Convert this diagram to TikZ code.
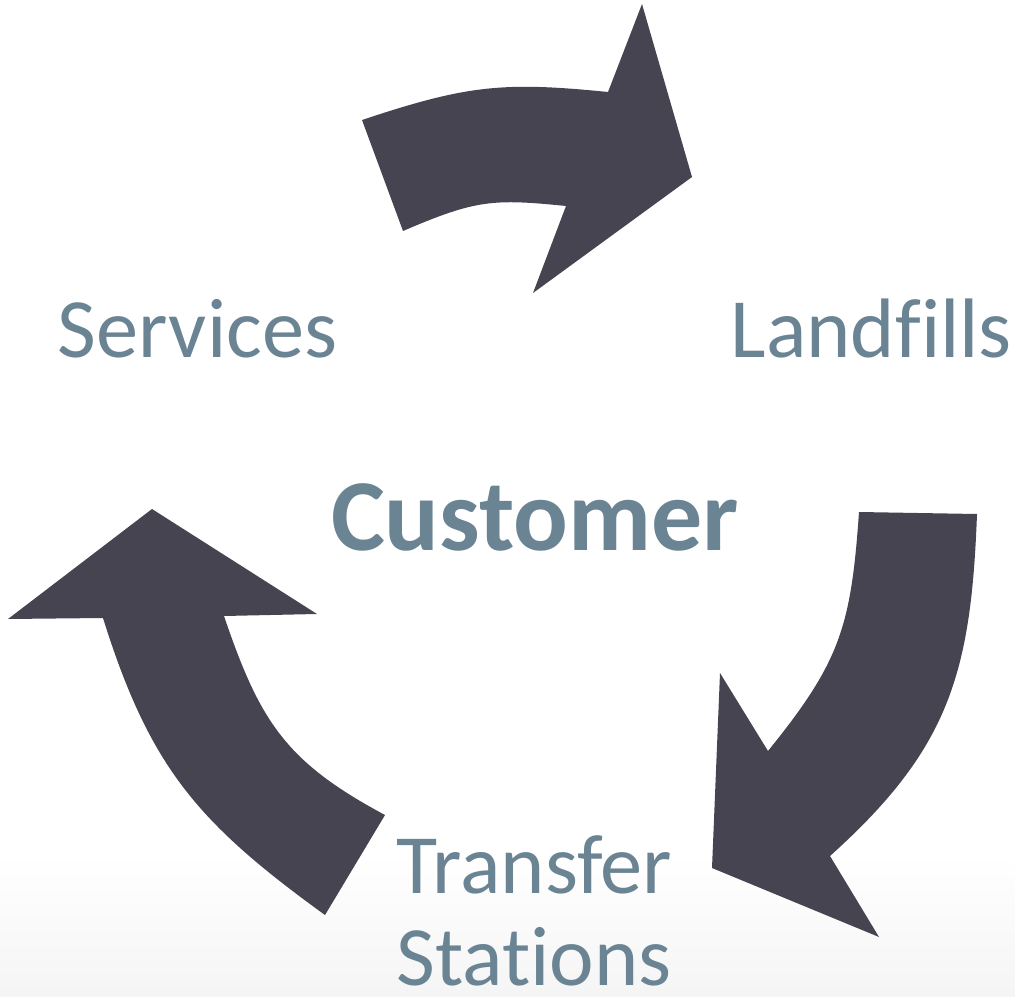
\documentclass[tikz,border=0pt]{standalone}
\usepackage{fontspec}
\setmainfont{Carlito}[Ligatures=CommonOff]
\definecolor{arrowc}{RGB}{70,68,81}
\definecolor{textc}{RGB}{106,132,148}
\begin{document}
\begin{tikzpicture}[x=0.01cm,y=-0.01cm,
  arrowshape/.style={fill=arrowc, draw=none},
  lbl/.style={text=textc, inner sep=0pt, anchor=base, font=\fontsize{24}{28}\selectfont},
  hub/.style={text=textc, inner sep=0pt, anchor=base, font=\fontsize{29}{33}\selectfont\bfseries}]
\useasboundingbox (0,0) rectangle (1015,997);
\shade[top color=white, bottom color=black!4, draw=none] (0,855) rectangle (1015,997);

% top arrow
\fill[arrowshape] (362,120) .. controls (467,85) and (503,81.5) .. (608,92)
  -- (642,4) -- (692,177) -- (533,293)
  -- (566,206) .. controls (493,198.7) and (476,199.6) .. (403,231) -- cycle;

% left arrow
\fill[arrowshape] (152,509) -- (317,614)
  -- (224,616) .. controls (260,722) and (286,762) .. (385,815)
  -- (325,915) .. controls (198,823) and (150,768) .. (103,618)
  -- (8,619) -- cycle;

% right arrow
\fill[arrowshape] (859,512) -- (977,514)
  .. controls (971,674) and (949,749) .. (830,856)
  -- (879,937) -- (712,868) -- (720,673)
  -- (768,751) .. controls (840,662) and (851,627) .. (859,512) -- cycle;

\node[lbl] (services) at (197.5,357) {Services};
\node[lbl] (landfills) at (871.5,357) {Landfills};
\node[hub] (customer) at (535,550) {Customer};
\node[lbl] (transfer) at (534.5,893) {Transfer};
\node[lbl] (stations) at (534,985) {Stations};
\end{tikzpicture}
\end{document}
